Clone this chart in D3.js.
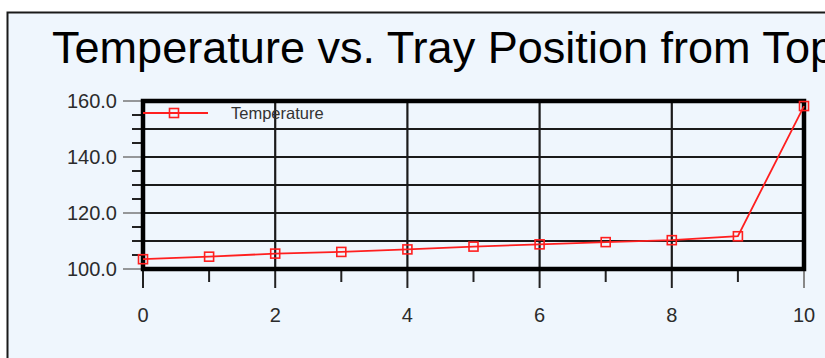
<!DOCTYPE html>
<html>
<head>
<meta charset="utf-8">
<script src="https://cdn.jsdelivr.net/npm/d3@7"></script>
<style>
  html, body { margin: 0; padding: 0; background: #ffffff; }
  svg { display: block; font-family: "Liberation Sans", Arial, sans-serif; }
</style>
</head>
<body>
<svg id="chart" width="825" height="358"></svg>
<script>
// Tray position from the top of the column and the measured temperature
const trayPositions = [0, 1, 2, 3, 4, 5, 6, 7, 8, 9, 10];
const temperatures = [103.5, 104.4, 105.5, 106.1, 107.0, 108.0, 108.8, 109.6, 110.3, 111.7, 158.2];
const xTickLabels = [0, 2, 4, 6, 8, 10];
const yTickLabels = [100, 120, 140, 160];
const titleText = "Temperature vs. Tray Position from Top";
const seriesName = "Temperature";

const svg = d3.select("#chart");
const red = "#ff1f1f";

// panel background and frame
svg.append("rect")
  .attr("x", 7.5).attr("y", 12.5)
  .attr("width", 840).attr("height", 360)
  .attr("fill", "#eff6fd")
  .attr("stroke", "#1a1a1a").attr("stroke-width", 2);

svg.append("text")
  .attr("x", 52).attr("y", 63)
  .attr("font-size", 44)
  .attr("textLength", 783)
  .attr("lengthAdjust", "spacingAndGlyphs")
  .attr("fill", "#000")
  .text(titleText);

const x = d3.scaleLinear().domain([0, 10]).range([143, 804]);
const y = d3.scaleLinear().domain([100, 160]).range([269, 101]);

// grid
const grid = svg.append("g").attr("stroke", "#1a1a1a").attr("stroke-width", 2.2);
grid.selectAll("line.h").data([110, 120, 130, 140, 150]).join("line")
  .attr("x1", x(0)).attr("x2", x(10))
  .attr("y1", d => y(d)).attr("y2", d => y(d));
grid.selectAll("line.v").data([2, 4, 6, 8]).join("line")
  .attr("x1", d => x(d)).attr("x2", d => x(d))
  .attr("y1", y(160)).attr("y2", y(100));

// y axis ticks: long grey ticks at labelled values, short dark ones between
const yMinor = d3.range(105, 160, 5).filter(v => !yTickLabels.includes(v));
svg.append("g").selectAll("line").data(yMinor).join("line")
  .attr("x1", x(0) - 11).attr("x2", x(0))
  .attr("y1", d => y(d)).attr("y2", d => y(d))
  .attr("stroke", "#222").attr("stroke-width", 2);
svg.append("g").selectAll("line").data(yTickLabels).join("line")
  .attr("x1", x(0) - 20).attr("x2", x(0))
  .attr("y1", d => y(d)).attr("y2", d => y(d))
  .attr("stroke", "#777").attr("stroke-width", 1.5);
svg.append("g").selectAll("text").data(yTickLabels).join("text")
  .attr("x", 117).attr("y", d => y(d))
  .attr("dy", "0.36em")
  .attr("text-anchor", "end")
  .attr("font-size", 20)
  .attr("fill", "#2b2b2b")
  .text(d => d3.format(".1f")(d));

// x axis ticks
svg.append("g").selectAll("line").data(d3.range(0, 11)).join("line")
  .attr("x1", d => x(d)).attr("x2", d => x(d))
  .attr("y1", y(100))
  .attr("y2", d => y(100) + (d % 2 === 0 ? 19 : 13))
  .attr("stroke", d => d === 10 ? "#888" : "#222").attr("stroke-width", 2);
svg.append("g").selectAll("text").data(xTickLabels).join("text")
  .attr("x", d => x(d)).attr("y", 315)
  .attr("dy", "0.36em")
  .attr("text-anchor", "middle")
  .attr("font-size", 20)
  .attr("fill", "#2b2b2b")
  .text(d => d);

// plot frame
svg.append("rect")
  .attr("x", x(0)).attr("y", y(160))
  .attr("width", x(10) - x(0)).attr("height", y(100) - y(160))
  .attr("fill", "none").attr("stroke", "#000").attr("stroke-width", 4.5);

// series line and square markers
const pts = trayPositions.map((p, i) => [p, temperatures[i]]);
svg.append("path")
  .datum(pts)
  .attr("fill", "none").attr("stroke", red).attr("stroke-width", 1.8)
  .attr("d", d3.line().x(d => x(d[0])).y(d => y(d[1])));
const ms = 9;
svg.append("g").selectAll("rect").data(pts).join("rect")
  .attr("x", d => x(d[0]) - ms / 2).attr("y", d => y(d[1]) - ms / 2)
  .attr("width", ms).attr("height", ms)
  .attr("fill", "none").attr("stroke", red).attr("stroke-width", 1.6);

// legend
const legY = 113;
svg.append("line")
  .attr("x1", 143).attr("x2", 208).attr("y1", legY).attr("y2", legY)
  .attr("stroke", red).attr("stroke-width", 1.8);
svg.append("rect")
  .attr("x", 174 - ms / 2).attr("y", legY - ms / 2)
  .attr("width", ms).attr("height", ms)
  .attr("fill", "none").attr("stroke", red).attr("stroke-width", 1.6);
svg.append("text")
  .attr("x", 231).attr("y", legY).attr("dy", "0.36em")
  .attr("font-size", 16.5)
  .attr("fill", "#333")
  .text(seriesName);
</script>
</body>
</html>
